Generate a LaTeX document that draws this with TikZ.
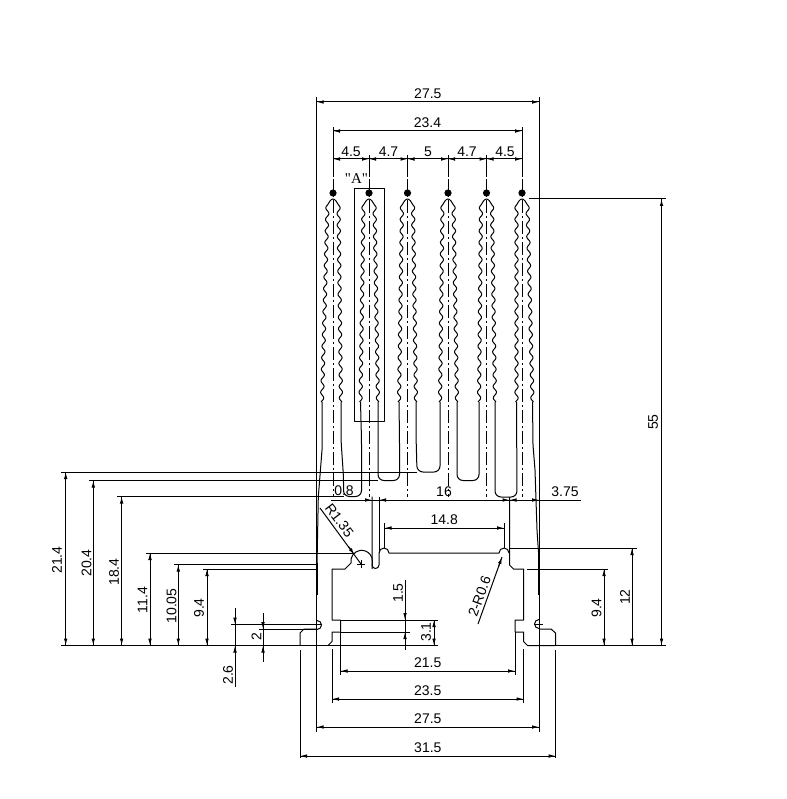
\documentclass[tikz,border=0pt]{standalone}
\usepackage{fontspec}
\setmainfont{Liberation Sans}
\newfontfamily\qfont{Liberation Serif}
\usetikzlibrary{arrows.meta}
\tikzset{
  lin/.style={line width=1pt,line cap=butt,line join=round},
  tip/.style={line width=1pt,-{Latex[length=7pt,width=3.6pt]}},
  ctr/.style={line width=1pt,dash pattern=on 13pt off 3pt on 2pt off 3pt},
  dimlabel/.style={inner sep=0pt,font=\fontsize{14}{14}\selectfont},
  edge/.style={line width=1pt,rounded corners=6pt}
}
\newcommand{\finwave}[3]{%
  \draw[lin] plot[domain=402:205,samples=300]
     ({#1-(5.5+(\x-205)/197*(#2-5.5)+1.6*sin(31.25*(\x-205)))},{\x})
     .. controls ({#1-4},{202}) and ({#1-2},{199}) .. ({#1},{199})
     .. controls ({#1+2},{199}) and ({#1+4},{202}) .. ({#1+5.5},{205})
     -- plot[domain=205:402,samples=300]
     ({#1+(5.5+(\x-205)/197*(#3-5.5)+1.6*sin(31.25*(\x-205)))},{\x});
}
\newcommand{\hdim}[5]{% x1 x2 y, tip at both ends
  \draw[lin] (#1,#3) -- (#2,#3);
  \draw[tip] ({#1+9},#3) -- (#1,#3);
  \draw[tip] ({#2-9},#3) -- (#2,#3);
  \node[dimlabel] (#5) at ({(#1+#2)/2},{#3-8}) {#4};
}
\newcommand{\vdim}[6]{% x y1 y2 labelx labely text
  \draw[lin] (#1,#2) -- (#1,#3);
  \draw[tip] (#1,{#2+9}) -- (#1,#2);
  \draw[tip] (#1,{#3-9}) -- (#1,#3);
  \node[dimlabel,rotate=90] at (#4,#5) {#6};
}
\begin{document}
\begin{tikzpicture}[x=1pt,y=-1pt]
\useasboundingbox (0,0) rectangle (786,799);
\fill[white] (0,0) rectangle (786,799);

% ---- fins
\finwave{333}{11}{8}
\finwave{369}{8.5}{9}
\finwave{407.5}{8.5}{8.5}
\finwave{448}{8}{9}
\finwave{486.5}{7.5}{8.5}
\finwave{522}{5.5}{10.5}

% ---- outer fin flanks
\draw[lin] (322,402) -- (322,450) -- (318.3,497) -- (317,565);
\draw[lin] (532.5,402) -- (533,445) -- (535,470) -- (537,530) -- (539,560);

% ---- channels
\draw[edge] (341,402) -- (341,440) -- (343.5,477) -- (343.5,496.5) -- (361.5,496.5) -- (361.5,440) -- (360.5,402);
\draw[edge] (378,402) -- (378,480.5) -- (399.5,480.5) -- (399.5,440) -- (399,402);
\draw[edge] (416,402) -- (416,435) -- (417,472) -- (440,472) -- (440,402);
\draw[edge] (457,402) -- (457,480.5) -- (479,480.5) -- (479,402);
\draw[edge] (495,402) -- (495,497) -- (517,497) -- (516.5,402);

% ---- centre lines
\foreach \cx/\ctop in {333/127,369/155,407.5/155,448/155,486.5/155,522/127}{
  \draw[lin] (\cx,\ctop) -- (\cx,177);
  \draw[ctr] (\cx,179) -- (\cx,497);
  \fill (\cx,193) circle (3.6pt);
}

% ---- detail box "A"
\draw[lin] (354.5,421.5) -- (384.5,421.5) -- (384.5,189) -- (354.5,189) -- cycle;
\node[inner sep=0pt,font=\qfont\fontsize{15}{15}\selectfont] (detaila) at (356.5,179) {"A"};

% ---- base profile, left
\draw[lin] (203,569) -- (317,569);
\draw[lin] (332,620) -- (332,569) -- (345,569) -- (351,563) arc (190:0:10.8 and -10.8) -- (372,569);
\draw[lin] (372,496.5) -- (372,565) arc (180:360:3.5 and -3.5) -- (379,553) arc (180:0:5 and -5) -- (499,553) arc (180:0:5 and -5);
\draw[lin] (379,496.5) -- (379,553);
\draw[lin] (361,560) -- (361,568) (357,564) -- (365,564);
\draw[lin] (332,620) -- (340.5,620) -- (340.5,632) -- (332,632) -- (332,641.5) -- (328,645.5);
\draw[lin] (317,620.5) arc (90:-90:4.5 and -4.5);
\draw[lin] (317,629) -- (304,629) -- (300,633) -- (300,645.5);

% ---- base profile, right
\draw[lin] (509.5,497) -- (509.5,565) -- (513.5,569) -- (523.5,569) -- (523.5,620) -- (515,620) -- (515,632) -- (523.5,632) -- (523.5,641.5) -- (527.5,645.5) -- (555.5,645.5) -- (555.5,633) -- (551,629) -- (539,629);
\draw[lin] (539,619.5) arc (90:270:4.5 and -4.5);

% ---- outer walls
\draw[lin] (316.7,97) -- (316.7,732);
\draw[lin] (539,97) -- (539,732);
\draw[line width=1.8pt] (316.7,563) -- (316.7,595);
\draw[line width=1.8pt] (539,556) -- (539,595);

% ---- horizontal extension lines, left
\draw[lin] (61,472) -- (417,472);
\draw[lin] (89,480.5) -- (378,480.5);
\draw[lin] (117,496.5) -- (344,496.5);
\draw[lin] (146,553) -- (355,553);
\draw[lin] (174,564.5) -- (317,564.5);
\draw[lin] (231,624.5) -- (322,624.5);
\draw[lin] (259,629) -- (317,629);
\draw[lin] (61,645.5) -- (438,645.5);
\draw[lin] (528,645.5) -- (666,645.5);
\draw[lin] (340.5,620) -- (438,620);
\draw[lin] (340.5,632) -- (410,632);
% right
\draw[lin] (529,199) -- (666,199);
\draw[lin] (509.5,548) -- (637,548);
\draw[lin] (527,569) -- (608,569);
\draw[lin] (534,624.5) -- (543,624.5);

% ---- vertical extension lines, bottom and top
\draw[lin] (300,650) -- (300,758);
\draw[lin] (555.7,650) -- (555.7,758);
\draw[lin] (332,649) -- (332,703);
\draw[lin] (523.5,649) -- (523.5,703);
\draw[lin] (340.5,632) -- (340.5,675);
\draw[lin] (515,632) -- (515,675);
\draw[lin] (384.5,523) -- (384.5,548);
\draw[lin] (504,523) -- (504,548);

% ---- top dimensions
\hdim{316.7}{539}{102}{27.5}{ta}
\hdim{333}{522}{131}{23.4}{tb}
\draw[lin] (333,159) -- (522,159);
\foreach \xa/\xb in {333/369,369/407.5,407.5/448,448/486.5,486.5/522}{
  \draw[tip] ({\xa+9},159) -- (\xa,159);
  \draw[tip] ({\xb-9},159) -- (\xb,159);
}
\node[dimlabel] (c1) at (351,151.5) {4.5};
\node[dimlabel] (c2) at (388.5,151.5) {4.7};
\node[dimlabel] (c3) at (428,151.5) {5};
\node[dimlabel] (c4) at (467,151.5) {4.7};
\node[dimlabel] (c5) at (505,151.5) {4.5};

% ---- bottom dimensions
\hdim{340.5}{515}{671}{21.5}{ba}
\hdim{332}{523.5}{699}{23.5}{bb}
\hdim{316.7}{539}{727}{27.5}{bc}
\hdim{300}{555.7}{756}{31.5}{bd}

% ---- mid dimensions
\hdim{384.5}{504}{528}{14.8}{md}
\draw[lin] (331,500) -- (581,500);
\draw[tip] (363,500) -- (372,500);
\draw[tip] (388,500) -- (379,500);
\draw[tip] (500.5,500) -- (509.5,500);
\draw[tip] (518.5,500) -- (509.5,500);
\draw[tip] (530,500) -- (539,500);
\node[dimlabel] (d08) at (344,491) {0.8};
\node[dimlabel] (d16) at (444,492) {16};
\node[dimlabel] (d375) at (565,492) {3.75};

% ---- left dimensions
\vdim{65.7}{472}{645.5}{57}{560}{21.4}
\vdim{93.3}{480.5}{645.5}{86.5}{563}{20.4}
\vdim{121.6}{496.5}{645.5}{114}{572}{18.4}
\vdim{150}{553}{645.5}{142.5}{600}{11.4}
\vdim{178.3}{564.5}{645.5}{171.5}{606}{10.05}
\vdim{207}{569}{645.5}{199}{608}{9.4}

% 2.6 and 2 with outside arrows
\draw[lin] (235,608) -- (235,687);
\draw[tip] (235,615.5) -- (235,624.5);
\draw[tip] (235,654.5) -- (235,645.5);
\node[dimlabel,rotate=90] (d26) at (228,675) {2.6};
\draw[lin] (263,613) -- (263,662);
\draw[tip] (263,620) -- (263,629);
\draw[tip] (263,654.5) -- (263,645.5);
\node[dimlabel,rotate=90] (d2) at (256.5,637) {2};

% 1.5 and 3.1
\draw[lin] (405,580) -- (405,650);
\draw[tip] (405,611) -- (405,620);
\draw[tip] (405,641) -- (405,632);
\node[dimlabel,rotate=90] (d15) at (398,593) {1.5};
\draw[lin] (434,620) -- (434,645.5);
\draw[tip] (434,629) -- (434,620);
\draw[tip] (434,636.5) -- (434,645.5);
\node[dimlabel,rotate=90] (d31) at (426,632) {3.1};

% ---- right dimensions
\vdim{661.5}{199}{645.5}{653}{422}{55}
\vdim{632}{548}{645.5}{625}{597}{12}
\vdim{604}{569}{645.5}{596.5}{608}{9.4}

% ---- leaders
\draw[lin] (320,508) -- (361,564);
\draw[tip] (348.5,546.5) -- (354.5,554.8);
\node[dimlabel,rotate=-53] (r135) at (339.5,520.5) {R1.35};
\draw[lin] (478,624) -- (502,557);
\draw[tip] (498.5,566.7) -- (502,557);
\node[dimlabel,rotate=70] (r06) at (479.5,596.5) {2-R0.6};
\end{tikzpicture}
\end{document}
